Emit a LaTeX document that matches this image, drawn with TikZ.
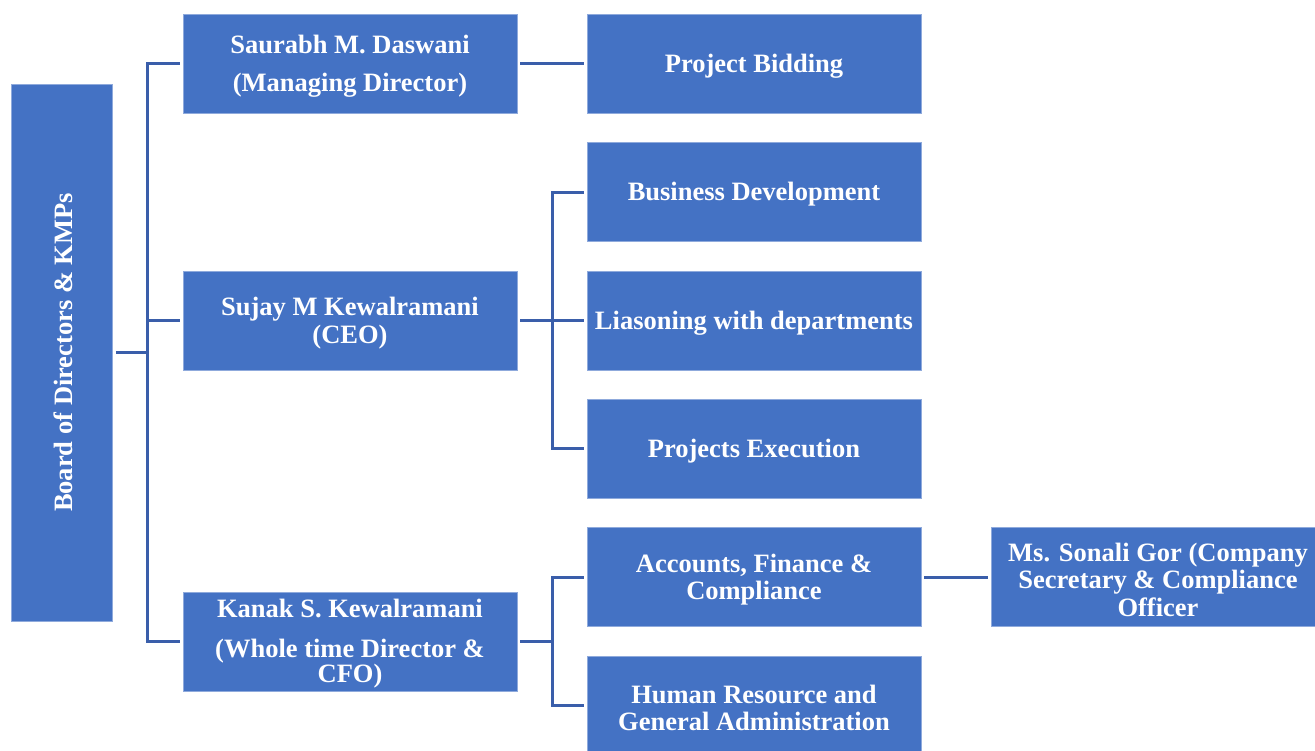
\documentclass[tikz,border=0pt]{standalone}
\usepackage{fontspec}
\setmainfont{Liberation Serif}
\usetikzlibrary{calc}
\definecolor{boxblue}{RGB}{68,114,196}
\definecolor{boxedge}{RGB}{143,170,220}
\definecolor{linkblue}{RGB}{58,94,170}
\newcommand{\orgbox}[3]{%
  \node[box] (#1) at (#2) {};
  \node[txt] (#1-text) at ([yshift=-2.5pt]#1.center) {#3};}
\begin{document}
\begin{tikzpicture}[x=1pt,y=-1pt,
  box/.style={rectangle, fill=boxblue, draw=boxedge, line width=0.8pt,
    minimum width=334pt, minimum height=99pt, inner sep=0pt},
  txt/.style={inner sep=0pt, align=center, text=white,
    font=\fontsize{26.5}{27.5}\selectfont\bfseries},
  conn/.style={draw=linkblue, line width=3pt}]
\useasboundingbox (0,0) rectangle (1315,750);
\clip (0,0) rectangle (1315,750);

\node[box, minimum width=101pt, minimum height=537pt] (board) at (62,352.5) {};
\node[txt, rotate=90] (board-text) at ([xshift=1pt]board.center) {Board of Directors \& KMPs};

\orgbox{saurabh}{350,63.5}{Saurabh M. Daswani\\[10pt](Managing Director)}
\orgbox{sujay}{350,320.5}{Sujay M Kewalramani\\(CEO)}
\orgbox{kanak}{350,641.5}{Kanak S. Kewalramani\\[12pt](Whole time Director \&\\[-2pt]CFO)}

\orgbox{pb}{754,63.5}{Project Bidding}
\orgbox{bd}{754,192}{Business Development}
\orgbox{lia}{754,320.5}{Liasoning with departments}
\orgbox{pe}{754,448.5}{Projects Execution}
\orgbox{acc}{754,577}{Accounts, Finance \&\\Compliance}
\orgbox{hr}{754,705.5}{Human Resource and\\General Administration}
\orgbox{sonali}{1158,577}{Ms. Sonali Gor (Company\\Secretary \& Compliance\\Officer}

% board connectors
\coordinate (t1) at ($(board.east)!0.5!(sujay.west|-board.east)$);
\draw[conn] ([xshift=3pt]board.east) -- (t1);
\draw[conn] ([xshift=-3pt]saurabh.west) -| (t1) |- ([xshift=-3pt]kanak.west);
\draw[conn] ([xshift=-3pt]sujay.west) -- (t1|-sujay.west);

% managing director
\draw[conn] ([xshift=3pt]saurabh.east) -- ([xshift=-3pt]pb.west);

% CEO
\coordinate (t2) at ($(sujay.east)!0.5!(lia.west)$);
\draw[conn] ([xshift=3pt]sujay.east) -- ([xshift=-3pt]lia.west);
\draw[conn] ([xshift=-3pt]bd.west) -| (t2) |- ([xshift=-3pt]pe.west);

% CFO
\coordinate (t3) at ($(kanak.east)!0.5!(acc.west|-kanak.east)$);
\draw[conn] ([xshift=3pt]kanak.east) -- (t3);
\draw[conn] ([xshift=-3pt]acc.west) -| (t3) |- ([xshift=-3pt]hr.west);

% company secretary
\draw[conn] ([xshift=3pt]acc.east) -- ([xshift=-3pt]sonali.west);
\end{tikzpicture}
\end{document}
